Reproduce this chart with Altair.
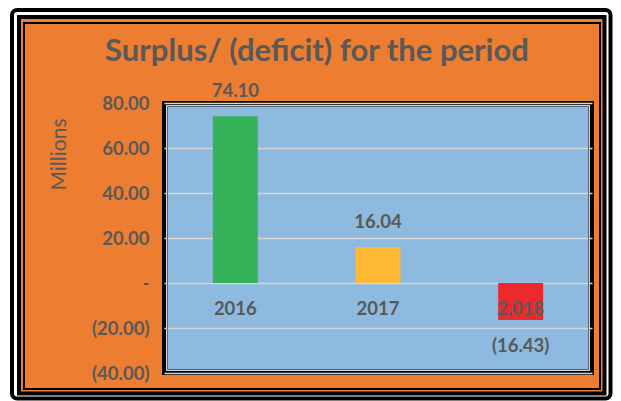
import altair as alt
import pandas as pd

# ---- data ----
categories = ["2016", "2017", "2,018"]
values = [74.10, 16.04, -16.43]
value_labels = ["74.10", "16.04", "(16.43)"]
bar_colors = ["#35B15A", "#FDB933", "#EC2A2E"]
y_ticks = [-40, -20, 0, 20, 40, 60, 80]

df = pd.DataFrame({"cat": categories, "value": values, "label": value_labels})
one = pd.DataFrame({"k": [0]})

# ---- layout (page pixels) ----
OX, OY = 164, 103          # plot origin on the page
W, H = 428, 270            # plot area
PL, PT = OX - 8, OY - 8    # padding inside the svg (page margin 8)
PR = 605 - PL - W          # total svg width 605 (fits the window)
PB = 393 - PT - H

TEXT = "#595959"
FONT = "Lato"
ORANGE = "#ED7D31"
BLUE = "#8EBADF"

xenc = alt.X("cat:N", sort=categories,
             scale=alt.Scale(paddingInner=0.685, paddingOuter=0.3425),
             axis=None)
label_expr = ("datum.value == 0 ? '-' : (datum.value < 0 ? '(' + format(-datum.value, '.2f') + ')'"
              " : format(datum.value, '.2f'))")
yaxis = alt.Axis(values=y_ticks, title="Millions", labelExpr=label_expr,
                 labelFont=FONT, labelFontSize=18.5, labelFontWeight="bold",
                 labelColor=TEXT, labelPadding=15, ticks=False, domain=False,
                 grid=True, gridColor="#D6D6D6", gridWidth=1.5,
                 titleFont=FONT, titleFontSize=21, titleFontWeight="normal",
                 titleColor=TEXT, titleAngle=-90, titleX=59 - OX, titleY=154 - OY,
                 titleAlign="center", titleBaseline="middle")
yenc = alt.Y("value:Q", scale=alt.Scale(domain=[-40, 80], nice=False, zero=False), axis=yaxis)


def frame(x1, y1, x2, y2, color, sw, r=0):
    return alt.Chart(one).mark_rect(
        fillOpacity=0, stroke=color, strokeWidth=sw, cornerRadius=r
    ).encode(x=alt.value(x1 - OX), x2=alt.value(x2 - OX),
             y=alt.value(y1 - OY), y2=alt.value(y2 - OY))


frames = [
    frame(8, 8, 613, 401, "#FFFFFF", 8),
    frame(15.5, 13.5, 607.5, 396, "#FFFFFF", 3),
    frame(12, 10, 610.5, 398.5, "#000000", 4, 5),
    frame(19, 17, 604.5, 393.5, "#000000", 4),
    frame(24, 23, 600, 389, "#000000", 2),
    frame(OX + 2.5, OY + 2.5, OX + W - 2.5, OY + H - 2.5, "#C9D3DC", 1),
    frame(OX + 3.5, OY + 3.5, OX + W - 3.5, OY + H - 3.5, "#55677A", 1),
]

bars = alt.Chart(df).mark_bar().encode(
    x=xenc, y=yenc,
    color=alt.Color("cat:N", scale=alt.Scale(domain=categories, range=bar_colors), legend=None),
)

txt = dict(font=FONT, fontSize=18.5, fontWeight="bold", color=TEXT, baseline="middle")
pos_labels = alt.Chart(df).transform_filter("datum.value >= 0").mark_text(dy=-25, **txt).encode(
    x=xenc, y=alt.Y("value:Q"), text="label:N")
neg_labels = alt.Chart(df).transform_filter("datum.value < 0").mark_text(dy=26, **txt).encode(
    x=xenc, y=alt.Y("value:Q"), text="label:N")
cat_labels = alt.Chart(df).mark_text(dy=26, **txt).encode(
    x=xenc, y=alt.datum(0), text="cat:N")

chart = alt.layer(
    *frames, bars, pos_labels, neg_labels, cat_labels
).properties(
    width=W, height=H,
    padding={"left": PL, "top": PT, "right": PR, "bottom": PB},
    autosize=alt.AutoSizeParams(type="none"),
    background=ORANGE,
    title=alt.TitleParams(
        "Surplus/ (deficit) for the period", font=FONT, fontSize=31,
        fontWeight="bold", color=TEXT, anchor="middle", frame="group",
        offset=0, baseline="alphabetic", dx=317 - (OX + W / 2), dy=88),
).configure_view(fill=BLUE, stroke="#000000", strokeWidth=4)

chart.save("out.html", embed_options={"renderer": "svg", "actions": False})
